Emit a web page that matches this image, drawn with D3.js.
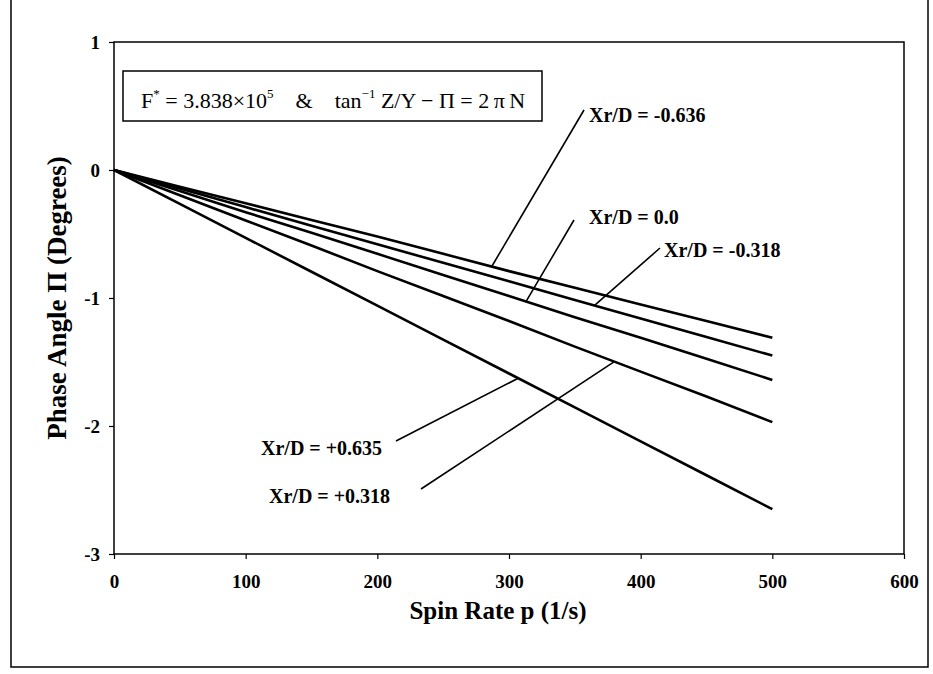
<!DOCTYPE html>
<html>
<head>
<meta charset="utf-8">
<script src="https://cdn.jsdelivr.net/npm/d3@7"></script>
<style>
  body { margin: 0; background: #fff; }
  svg { display: block; }
  text { font-family: "Liberation Serif", "Times New Roman", serif; }
</style>
</head>
<body>
<div id="chart"></div>
<script>
// spin rate (1/s)
var spin = [0, 50, 100, 150, 200, 250, 300, 350, 400, 450, 500]

// phase angle (degrees), one array per Xr/D
var xrNeg636 = [0, -0.13, -0.26, -0.39, -0.52, -0.655, -0.79, -0.92, -1.05, -1.18, -1.31]
var xrNeg318 = [0, -0.145, -0.29, -0.435, -0.58, -0.725, -0.87, -1.015, -1.16, -1.305, -1.45]
var xrZero = [0, -0.164, -0.33, -0.49, -0.655, -0.82, -0.985, -1.15, -1.31, -1.475, -1.64]
var xrPos318 = [0, -0.197, -0.395, -0.59, -0.79, -0.985, -1.18, -1.38, -1.575, -1.77, -1.97]
var xrPos635 = [0, -0.265, -0.53, -0.795, -1.06, -1.325, -1.59, -1.855, -2.12, -2.385, -2.65]

var xTicks = [0, 100, 200, 300, 400, 500, 600]
var yTicks = [1, 0, -1, -2, -3]

var labels = ["Xr/D = -0.636", "Xr/D = -0.318", "Xr/D = 0.0", "Xr/D = +0.318", "Xr/D = +0.635"]

var width = 933,
    height = 674,
    margin = {top: 42, right: 29, bottom: 120, left: 114};

var svg = d3.select("#chart").append("svg")
    .attr("width", width)
    .attr("height", height)

// outer frame
svg.append("rect")
    .attr("x", 11).attr("y", -2)
    .attr("width", 917).attr("height", 669)
    .attr("fill", "none")
    .attr("stroke", "#000")
    .attr("stroke-width", 1.5)

var x = d3.scaleLinear().domain([0, 600]).range([margin.left, width - margin.right])
var y = d3.scaleLinear().domain([-3, 1]).range([height - margin.bottom, margin.top])

// plot frame
svg.append("rect")
    .attr("x", x(0)).attr("y", y(1))
    .attr("width", x(600) - x(0)).attr("height", y(-3) - y(1))
    .attr("fill", "none")
    .attr("stroke", "#000")
    .attr("stroke-width", 1.5)

var xAxis = svg.append("g")
    .attr("transform", "translate(0," + y(-3) + ")")
    .call(d3.axisBottom(x).tickValues(xTicks).tickSize(5).tickPadding(16))
var yAxis = svg.append("g")
    .attr("transform", "translate(" + x(0) + ",0)")
    .call(d3.axisLeft(y).tickValues(yTicks).tickSize(5).tickPadding(9)
        .tickFormat(d => String(d)))

;[xAxis, yAxis].forEach(a => {
    a.select(".domain").remove()
    a.selectAll("line").attr("stroke", "#000").attr("stroke-width", 1.2)
    a.selectAll("text")
        .attr("fill", "#000")
        .style("font-family", "'Liberation Serif', serif")
        .style("font-size", "19px")
        .style("font-weight", "bold")
})

// axis titles
svg.append("text")
    .attr("x", 498).attr("y", 619)
    .attr("text-anchor", "middle")
    .style("font-size", "25px").style("font-weight", "bold")
    .text("Spin Rate p (1/s)")

svg.append("text")
    .attr("transform", "translate(66,298) rotate(-90)")
    .attr("text-anchor", "middle")
    .style("font-size", "27px").style("font-weight", "bold")
    .text("Phase Angle \u03A0 (Degrees)")

// info box
svg.append("rect")
    .attr("x", 123).attr("y", 71)
    .attr("width", 419).attr("height", 50)
    .attr("fill", "#fff")
    .attr("stroke", "#000")
    .attr("stroke-width", 1.5)

var info = svg.append("text")
    .attr("x", 141).attr("y", 108)
    .style("font-size", "22px")
info.append("tspan").text("F")
info.append("tspan").attr("dy", -10).style("font-size", "13px").text("*")
info.append("tspan").attr("dy", 10).text(" = 3.838\u00D710")
info.append("tspan").attr("dy", -10).style("font-size", "13px").text("5")
info.append("tspan").attr("dy", 10).text("\u2003&\u2003tan")
info.append("tspan").attr("dy", -10).style("font-size", "13px").text("\u22121")
info.append("tspan").attr("dy", 10).text(" Z/Y \u2212 \u03A0 = 2\u2009\u03C0\u2009N")

// data lines
var series = [xrNeg636, xrNeg318, xrZero, xrPos318, xrPos635]
var line = d3.line()
    .x((d, i) => x(spin[i]))
    .y(d => y(d))

svg.selectAll(".series")
    .data(series)
    .enter()
    .append("path")
    .attr("class", "series")
    .attr("d", line)
    .attr("fill", "none")
    .attr("stroke", "#000")
    .attr("stroke-width", 2.6)

// labels with leader lines: text position, line start, and the point on the curve it touches
var notes = [
    {t: labels[0], tx: 589, ty: 122, px: 584, py: 110, s: 287, v: -0.752},
    {t: labels[1], tx: 664, ty: 257, px: 660, py: 248, s: 365, v: -1.058},
    {t: labels[2], tx: 589, ty: 224, px: 574, py: 220, s: 313, v: -1.027},
    {t: labels[3], tx: 269, ty: 503, px: 421, py: 489, s: 380, v: -1.497},
    {t: labels[4], tx: 261, ty: 455, px: 396, py: 441, s: 307, v: -1.627}
]

svg.selectAll(".leader")
    .data(notes)
    .enter()
    .append("line")
    .attr("class", "leader")
    .attr("x1", d => d.px).attr("y1", d => d.py)
    .attr("x2", d => x(d.s)).attr("y2", d => y(d.v))
    .attr("stroke", "#000")
    .attr("stroke-width", 1.6)

svg.selectAll(".note")
    .data(notes)
    .enter()
    .append("text")
    .attr("class", "note")
    .attr("x", d => d.tx).attr("y", d => d.ty)
    .style("font-size", "20px").style("font-weight", "bold")
    .text(d => d.t)
</script>
</body>
</html>
